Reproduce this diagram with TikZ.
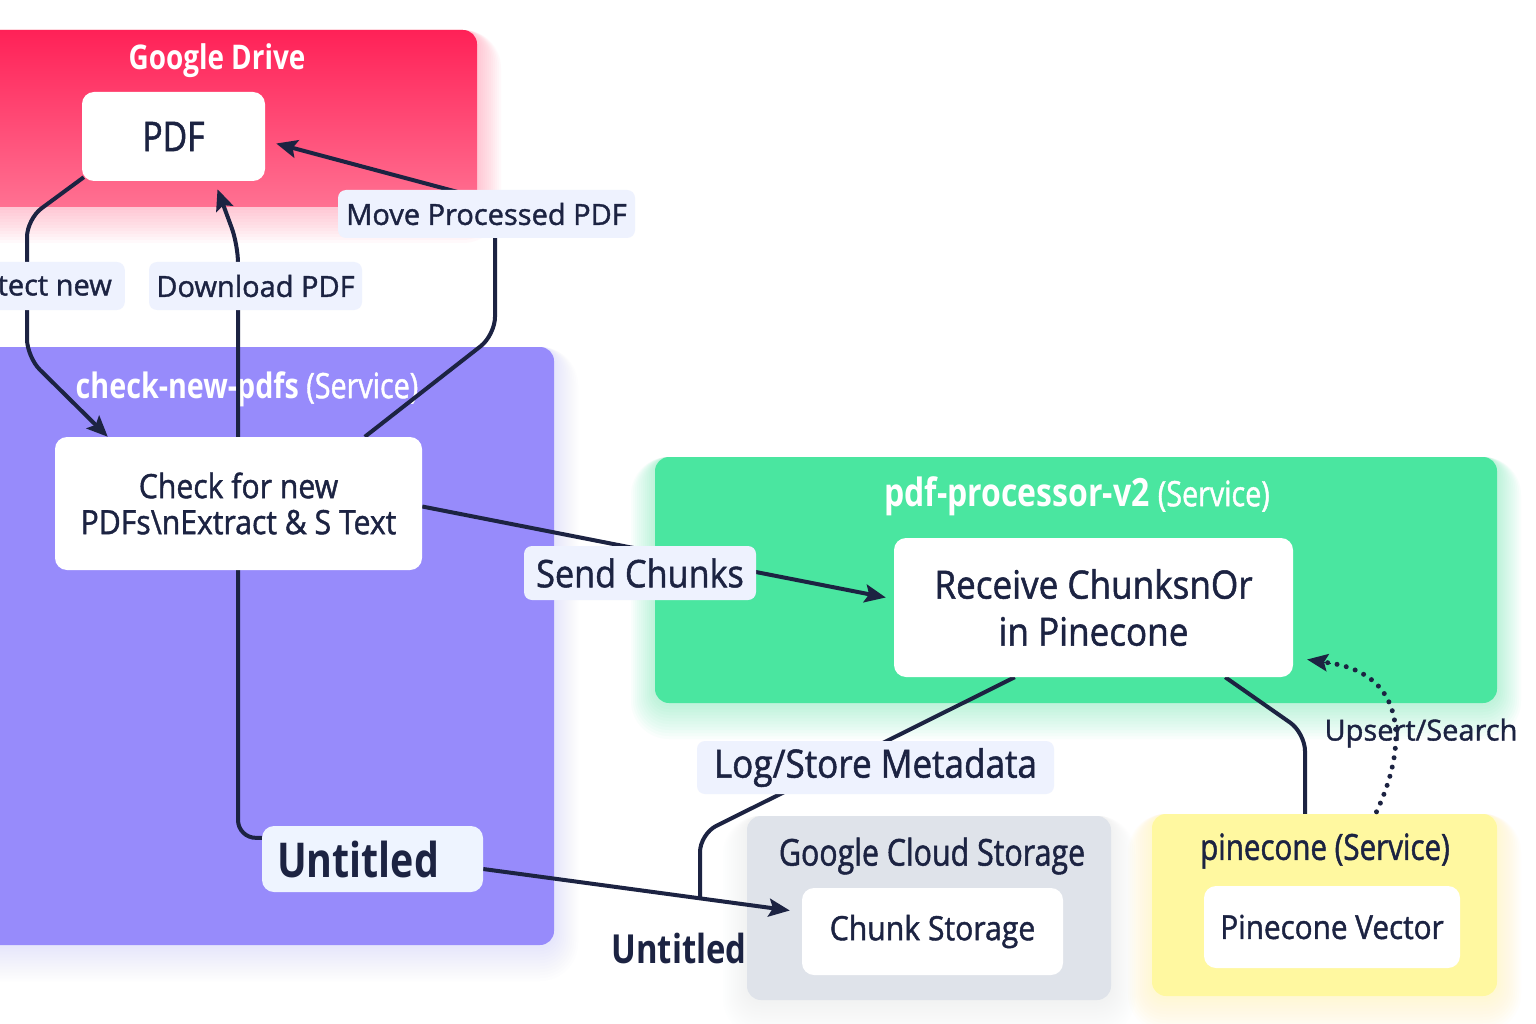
\documentclass[tikz,border=0pt]{standalone}
\usepackage{fontspec}
\setmainfont{Open Sans}[FakeBold=1.3]
\newfontfamily\medc{Open Sans}[FakeStretch=0.9, FakeBold=1.3]
\newfontfamily\condf{Open Sans}[FakeStretch=0.82]
\newfontfamily\condm{Open Sans}[FakeStretch=0.82, FakeBold=1.3]
\usetikzlibrary{arrows.meta,calc}
\definecolor{navy}{HTML}{1C2342}
\definecolor{gdtop}{HTML}{FF2157}
\definecolor{gdbot}{HTML}{FF7192}
\definecolor{purp}{HTML}{978BFB}
\definecolor{grn}{HTML}{4AE6A0}
\definecolor{gcs}{HTML}{DFE3EA}
\definecolor{yel}{HTML}{FFF8A0}
\definecolor{lblbg}{HTML}{EEF2FE}
\definecolor{untbg}{HTML}{EEF4FF}
\newcommand{\fsz}[2]{\fontsize{#1}{#2}\selectfont}
\tikzset{
  cont/.style={rounded corners=14pt, inner sep=0pt},
  inner/.style={fill=white, rounded corners=12pt, align=center, text=navy, inner sep=0pt},
  lbl/.style={fill=lblbg, rounded corners=8pt, text=navy, inner sep=0pt, font=\fsz{29}{34}},
  ttl/.style={text=white, inner sep=0pt},
  conn/.style={draw=navy, line width=4pt, rounded corners=18pt},
  arr/.style={-{Stealth[length=21pt,width=18pt,inset=4pt]}},
  dots/.style={draw=navy, line width=5pt, line cap=round, dash pattern=on 0pt off 9.5pt}
}
\begin{document}
\begin{tikzpicture}[x=1pt,y=-1pt]
\useasboundingbox (0,0) rectangle (1536,1024);
\fill[white] (0,0) rectangle (1536,1024);
% glows
\foreach \i in {1,...,12}{
  \fill[gdbot, opacity=0.035, rounded corners=14+2*\i] (-40,30) rectangle (477+2*\i,207+3*\i);
  \fill[grn, opacity=0.03, rounded corners=14+2*\i] (655-2*\i,457) rectangle (1497+2*\i,703+3*\i);
  \fill[yel, opacity=0.04, rounded corners=14+2*\i] (1152-2*\i,814) rectangle (1497+2*\i,996+3*\i);
  \fill[purp, opacity=0.015, rounded corners=14+2*\i] (-40,347) rectangle (554+2*\i,945+3*\i);
  \fill[gcs, opacity=0.03, rounded corners=14+2*\i] (747-2*\i,816) rectangle (1111+2*\i,1000+3*\i);
}
% containers
\node[cont, top color=gdtop, bottom color=gdbot, minimum width=517, minimum height=177] (gdrive) at (218.5,118.5) {};
\node[cont, fill=purp, minimum width=594, minimum height=598] (checksvc) at (257,646) {};
\node[cont, fill=grn, minimum width=842, minimum height=246] (procsvc) at (1076,580) {};
\node[cont, fill=gcs, minimum width=364, minimum height=184] (gcsbox) at (929,908) {};
\node[cont, fill=yel, minimum width=345, minimum height=182] (pinesvc) at (1324.5,905) {};
% titles
\node[ttl, font=\condf\bfseries\fsz{34}{40}] (gdtitle) at (217,61) {Google Drive};
\node[ttl, font=\condm\fsz{35}{40}] (chktitle) at (247,389) {{\condf\bfseries check-new-pdfs} (Service)};
\node[ttl, font=\condm\fsz{39}{44}] (proctitle) at (1077,496) {{\condf\bfseries pdf-processor-v2} {\fsz{35}{40}(Service)}};
\node[text=navy, inner sep=0pt, font=\condm\fsz{37}{42}] (gcstitle) at (932,856) {Google Cloud Storage};
\node[text=navy, inner sep=0pt, font=\condm\fsz{36}{42}] (pinetitle) at (1325,851) {pinecone (Service)};
% inner node positions
\coordinate (pdfC) at (173.5,136.5);
\coordinate (chkC) at (238.5,503.5);
\coordinate (untC) at (372.5,859);
\coordinate (recC) at (1093.5,607.5);
\coordinate (chunkC) at (932.5,931.5);
\coordinate (vecC) at (1332,927);
\path (pdfC) node[minimum width=183, minimum height=89, inner sep=0pt] (pdf) {};
\path (chkC) node[minimum width=367, minimum height=133, inner sep=0pt] (check) {};
\path (untC) node[minimum width=221, minimum height=66, inner sep=0pt] (untitled) {};
\path (recC) node[minimum width=399, minimum height=139, inner sep=0pt] (receive) {};
\path (chunkC) node[minimum width=261, minimum height=87, inner sep=0pt] (chunk) {};
% connectors
\coordinate (metaEnd) at (700,898);
\draw[conn, arr] ($(pdf.south west)+(2,-4)$) -- (27,219) -- (27,357) -- ($(check.north west)+(53,0)$);
\draw[conn, arr] ($(untitled.north west)+(0,12)$) -- (238,838) -- (238,245) -- ($(pdf.south)+(44,8)$);
\draw[conn, arr] ($(check.north west)+(310,0)$) -- (495,335) -- (495,202) -- ($(pdf.east)+(11,7)$);
\draw[conn, arr] ($(check.east)+(0,3)$) -- ($(receive.west)+(-8,-10)$);
\draw[conn] ($(receive.south west)+(121,0)$) -- (700,834) -- (metaEnd);
\draw[conn, arr] ($(untitled.east)+(0,10)$) -- ($(chunk.west)+(-12,-21)$);
\draw[conn] ($(receive.south east)+(-68,0)$) -- (1305,733) -- (pinesvc.north -| 1305,0);
% inner nodes drawn
\node[inner, minimum width=183, minimum height=89, font=\condm\fsz{41}{46}] at (pdfC) {PDF};
\node[inner, minimum width=367, minimum height=133, font=\medc\fsz{33.5}{36}] at (chkC) {Check for new\\PDFs\textbackslash nExtract \& S Text};
\node[fill=untbg, rounded corners=12pt, text=navy, inner xsep=15pt, inner ysep=0pt, text width=191pt, minimum height=66, align=left, font=\condf\bfseries\fsz{48}{52}] at (untC) {Untitled};
\node[inner, minimum width=399, minimum height=139, font=\medc\fsz{39}{47}] at (recC) {Receive ChunksnOr\\in Pinecone};
\node[inner, minimum width=261, minimum height=87, font=\medc\fsz{33.5}{38}] at (chunkC) {Chunk Storage};
\node[inner, minimum width=256, minimum height=82, font=\medc\fsz{33}{38}] (vector) at (vecC) {Pinecone Vector};
% labels
\node[lbl, anchor=east, minimum height=48, inner xsep=13pt] (lbldetect) at (125,286) {tect new};
\node[lbl, minimum width=213, minimum height=48] (lbldl) at (255.5,286) {Download PDF};
\node[lbl, minimum width=297, minimum height=48, font=\fsz{29}{34}] (lblmove) at (486.5,214) {Move Processed PDF};
\node[lbl, minimum width=232, minimum height=54, font=\medc\fsz{38}{42}] (lblsend) at (640,573) {Send Chunks};
\node[lbl, minimum width=357, minimum height=53, font=\medc\fsz{39}{44}] (lbllog) at (875.5,767.5) {Log/Store Metadata};
\node[text=navy, inner sep=0pt, font=\fsz{29}{34}] (lblups) at (1421,733) {Upsert/Search};
\node[text=navy, inner sep=0pt, font=\condf\bfseries\fsz{40}{46}] (freeunt) at (679,948) {Untitled};
% dotted connector
\draw[dots] ($(pinesvc.north)+(52,-2)$) .. controls (1410,740) and (1405,670) .. (1322,662);
\draw[navy, line width=0pt, -{Stealth[length=21pt,width=18pt,inset=4pt]}] (1330,663) -- ($(receive.east)+(14,52)$);
\end{tikzpicture}
\end{document}
